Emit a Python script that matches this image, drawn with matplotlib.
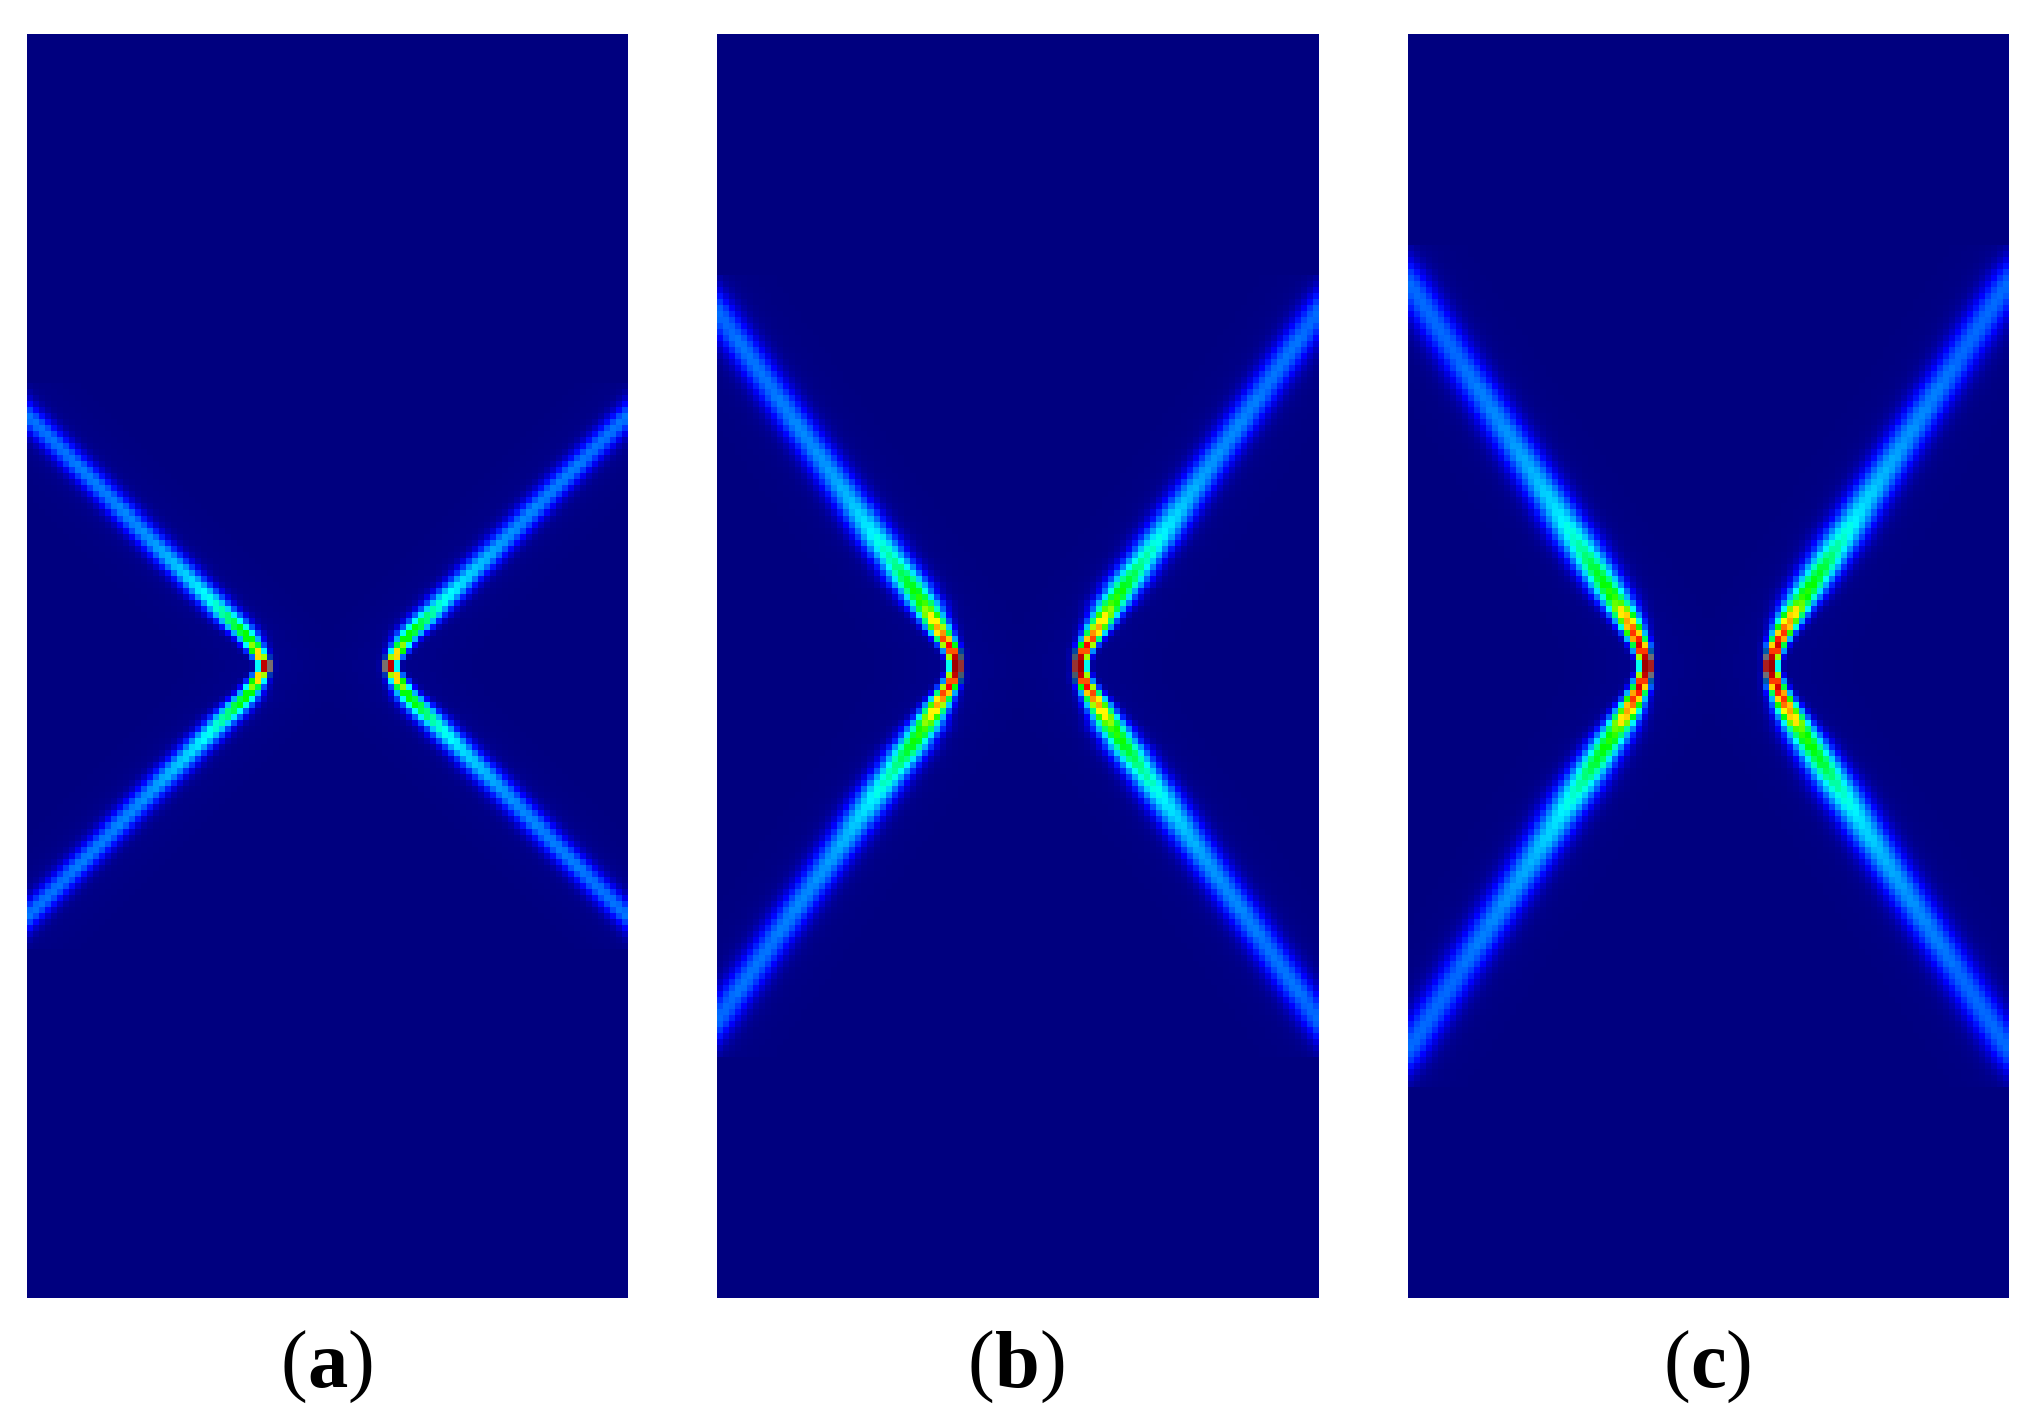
import numpy as np
import matplotlib
matplotlib.use("Agg")
import matplotlib.pyplot as plt
from matplotlib.colors import LinearSegmentedColormap

N_ROWS = 210
N_COLS = 100
LABELS = ["a", "b", "c"]

# ridge column / peak / width per row, upper left arm, last entry is row 104 (the vertex)
ridge_a = [-5.3, -4.3, -3.3, -2.3, -1.3, -0.3, 0.7, 1.7, 2.7, 3.7, 4.7, 5.7, 6.7, 7.7, 8.7, 9.7,
           10.7, 11.7, 12.7, 13.7, 14.7, 15.7, 16.7, 17.7, 18.7, 19.7, 20.7, 21.7, 22.7, 23.7, 24.7,
           25.7, 26.7, 27.7, 28.7, 29.7, 30.7, 31.7, 32.7, 33.7, 34.7, 35.7, 36.5, 37.2, 37.8, 38.4, 39.0]
peak_a = [.20, .20, .20, .20, .20, .21, .21, .21, .21, .21, .21, .21, .21, .22, .22, .22, .22, .22,
          .22, .22, .23, .23, .23, .23, .24, .24, .25, .26, .27, .28, .29, .30, .31, .32, .34, .35,
          .37, .39, .42, .45, .49, .50, .52, .58, .68, .75, .93]
width_a = [2.0] * 31 + [1.9] * 5 + [1.8] * 3 + [1.7, 1.6, 1.5, 1.3, 1.15, 1.0, .85, .7]

ridge_b = [-4.3, -3.6, -2.9, -2.2, -1.5, -0.8, -0.1, 0.6, 1.3, 2.0, 2.7, 3.4, 4.1, 4.8, 5.5, 6.2, 6.9,
           7.6, 8.3, 9.0, 9.7, 10.4, 11.1, 11.8, 12.5, 13.2, 13.9, 14.6, 15.4, 16.1, 16.8, 17.5, 18.2,
           18.9, 19.6, 20.3, 21.0, 21.7, 22.4, 23.1, 23.8, 24.5, 25.2, 25.9, 26.6, 27.3, 28.0, 28.8,
           29.5, 30.2, 30.9, 31.6, 32.3, 33.0, 33.7, 34.3, 34.9, 35.5, 36.1, 36.7, 37.3, 37.9, 38.5, 38.8, 39.0]
peak_b = [.12, .14, .16, .18, .19, .20, .20, .20, .20, .20] + [.21] * 10 + [.22, .22, .22, .22, .23, .23, .23, .23, .23, .24, .24, .24, .25, .25,
          .26, .27, .27, .28, .29, .30, .31, .32, .33, .35, .36, .38, .39, .40, .42, .44, .46, .48, .50,
          .51, .53, .58, .65, .68, .72, .76, .84, .88, .93, .96, .96]
width_b = [2.3] * 45 + [2.2] * 7 + [2.0] * 3 + [1.8, 1.6, 1.5, 1.4, 1.25, 1.1, 1.0, .9, .8, .7]

ridge_c = [-4.2, -3.5, -2.8, -2.1, -1.4, -0.8, -0.2, 0.45, 1.1, 1.8, 2.4, 3.1, 3.7, 4.4, 5.0, 5.7, 6.3, 7.0,
           7.6, 8.3, 8.9, 9.6, 10.2, 10.9, 11.6, 12.2, 12.9, 13.5, 14.2, 14.8, 15.5, 16.1, 16.8, 17.4,
           18.1, 18.7, 19.4, 20.0, 20.7, 21.3, 22.0, 22.6, 23.3, 23.9, 24.6, 25.2, 25.9, 26.6, 27.2, 27.9,
           28.5, 29.2, 29.8, 30.5, 31.1, 31.8, 32.4, 33.1, 33.7, 34.4, 35.0, 35.6, 36.2, 36.7, 37.2, 37.7,
           38.2, 38.5, 38.8, 39.0]
peak_c = [.10, .12, .14, .16, .18, .19, .20, .20, .20, .20] + [.20] * 10 + [.21, .21, .21, .22, .22, .22, .22, .23, .23, .23, .24, .24, .24, .25, .25,
          .26, .26, .27, .27, .28, .29, .30, .30, .31, .32, .33, .35, .36, .37, .39, .40, .42, .44, .46,
          .47, .48, .50, .51, .52, .56, .66, .70, .73, .79, .84, .88, .93, .96, .96, .96]
width_c = [2.5] * 50 + [2.4, 2.4, 2.3, 2.3, 2.2, 2.2, 2.1, 2.1, 2.0,
                        1.9, 1.7, 1.6, 1.5, 1.35, 1.2, 1.1, 1.0, .9, .8, .7]

# greyed cells on the outer edge at the vertex, col 40, counted upward from row 104
edge_a = [(120, 110, 110), (0, 50, 180)]
edge_b = [(150, 50, 50), (70, 90, 110), (0, 70, 160)]
edge_c = [(170, 30, 30), (110, 110, 120), (0, 90, 170)]

ridges = [ridge_a, ridge_b, ridge_c]
peaks = [peak_a, peak_b, peak_c]
widths = [width_a, width_b, width_c]
edges = [edge_a, edge_b, edge_c]
panel_x = [27, 717, 1408]
panel_w = [600.5, 601.5, 600.5]

# jet-like map, but with a pure green in the middle as in the figure
cmap = LinearSegmentedColormap.from_list("figure_jet", [
    (0.0, "#00007f"), (0.11, "#0000ff"), (0.35, "#00ffff"), (0.5, "#00ff00"),
    (0.65, "#ffff00"), (0.89, "#ff0000"), (1.0, "#7f0000")], N=512)

W, H = 2037, 1424
fig = plt.figure(figsize=(W / 100, H / 100), dpi=100)


def build_cells(ridge, peak, width):
    half = np.zeros((N_ROWS // 2, N_COLS // 2))
    cols = np.arange(N_COLS // 2)
    start = N_ROWS // 2 - len(ridge)
    for i in range(len(ridge)):
        d = cols - ridge[i]
        line = peak[i] * np.exp(-d ** 2 / (2 * width[i] ** 2))
        halo = 0.012 * np.exp(-d ** 2 / (2 * 7.0 ** 2))
        half[start + i] = line + halo
    top = np.hstack([half, half[:, ::-1]])
    return np.vstack([top, top[::-1]])


def panel_label(cx, y, letter):
    # "(" and ")" are regular, the letter is bold, so place the three pieces side by side
    r = fig.canvas.get_renderer()
    parts = [("(", "normal"), (letter, "bold"), (")", "normal")]
    texts = [fig.text(0, 1 - y / H, s, fontsize=58, family="Liberation Serif", fontweight=w,
                      va="baseline", ha="left", color="black") for s, w in parts]
    sizes = [t.get_window_extent(r).width for t in texts]
    x = cx - sum(sizes) / 2
    for t, s in zip(texts, sizes):
        t.set_x(x / W)
        x += s


for k in range(3):
    cells = build_cells(ridges[k], peaks[k], widths[k])
    rgb = cmap(np.clip(cells, 0, 1))[:, :, :3]
    for i, c in enumerate(edges[k]):
        for row in (104 - i, 105 + i):
            rgb[row, 40] = np.array(c) / 255
            rgb[row, 59] = np.array(c) / 255

    ax = fig.add_axes([panel_x[k] / W, 1 - 1298 / H, panel_w[k] / W, 1264 / H])
    ax.imshow(rgb, aspect="auto", interpolation="nearest")
    ax.axis("off")

    panel_label(panel_x[k] + 300, 1387, LABELS[k])

fig.savefig("out.png", dpi=100, facecolor="white")
